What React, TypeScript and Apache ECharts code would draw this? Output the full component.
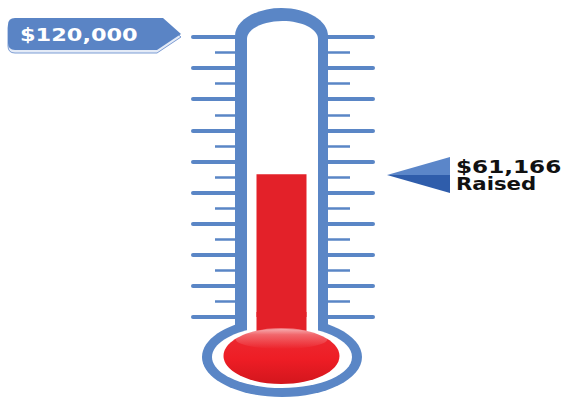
import React, { useEffect, useRef } from "react";
import * as echarts from "echarts";

const TARGET = 120000;
const RAISED = 61166;
const CATEGORIES = ["Raised"];
const RAISED_VALUES = [RAISED];
const TICK_STEPS = 9;
const GOAL_LABEL = "$120,000";
const RAISED_LABEL = "$61,166";
const RAISED_WORD = "Raised";

const BLUE = "#5A86C6";
const RED = "#E32129";

const FLAG_D =
  "M15,18 L163,18 L181,34 L157,50 L15,50 Q8,50 8,43 L8,25 Q8,18 15,18 Z";
echarts.graphic.registerShape("flag", echarts.graphic.extendPath(FLAG_D, {}));

export default function App() {
  const ref = useRef<HTMLDivElement>(null);
  useEffect(() => {
    if (!ref.current) return;
    const chart = echarts.init(ref.current, null, { renderer: "svg" });
    const tickAxis = (pos: "left" | "right", len: number, minorLen: number) => ({
      type: "value",
      min: 0,
      max: TICK_STEPS,
      interval: 1,
      position: pos,
      axisLine: { show: false },
      axisLabel: { show: false },
      splitLine: { show: false },
      axisTick: { show: true, length: len, lineStyle: { width: 4, color: BLUE, cap: "round" } },
      minorTick: { show: true, splitNumber: 2, length: minorLen, lineStyle: { width: 2.5, color: BLUE } },
    });
    chart.setOption({
      animation: false,
      grid: { left: 235, right: 239, top: 37, bottom: 83 },
      xAxis: { type: "category", data: CATEGORIES, show: false },
      yAxis: [
        { type: "value", min: 0, max: TARGET, show: false },
        tickAxis("left", 42, 20),
        tickAxis("right", 45, 22),
      ],
      series: [
        {
          type: "bar",
          yAxisIndex: 0,
          data: RAISED_VALUES,
          barWidth: 50,
          z: 5,
          itemStyle: { color: RED },
        },
      ],
      graphic: [
        { type: "ellipse", z: 1, z2: 1, shape: { cx: 282, cy: 357, rx: 80, ry: 40 }, style: { fill: BLUE } },
        { type: "ellipse", z: 1, z2: 2, shape: { cx: 281.5, cy: 36, rx: 46.5, ry: 28 }, style: { fill: BLUE } },
        { type: "rect", z: 1, z2: 3, shape: { x: 235, y: 36, width: 93, height: 300 }, style: { fill: BLUE } },
        { type: "ellipse", z: 1, z2: 4, shape: { cx: 282, cy: 357, rx: 70, ry: 31 }, style: { fill: "#fff" } },
        { type: "ellipse", z: 1, z2: 5, shape: { cx: 282.5, cy: 39, rx: 35.5, ry: 18 }, style: { fill: "#fff" } },
        { type: "rect", z: 1, z2: 6, shape: { x: 247, y: 39, width: 71, height: 300 }, style: { fill: "#fff" } },
        { type: "rect", z: 6, shape: { x: 256.5, y: 312, width: 50, height: 32 }, style: { fill: RED } },
        {
          type: "ellipse",
          z: 7,
          shape: { cx: 281.5, cy: 356, rx: 58, ry: 28 },
          style: {
            fill: new echarts.graphic.LinearGradient(0, 0, 0, 1, [
              { offset: 0, color: "#f07a7f" },
              { offset: 0.12, color: "#ec2a31" },
              { offset: 0.55, color: "#ee1d25" },
              { offset: 1, color: "#d3161d" },
            ]),
          },
        },
        {
          type: "ellipse",
          z: 8,
          shape: { cx: 281.5, cy: 339, rx: 46, ry: 10 },
          style: {
            fill: new echarts.graphic.LinearGradient(0, 0, 0, 1, [
              { offset: 0, color: "rgba(255,255,255,0.4)" },
              { offset: 1, color: "rgba(255,255,255,0)" },
            ]),
          },
        },
        { type: "flag", z: 9, x: 0, y: 3, style: { fill: "#e4ebf7", stroke: "#7d9dd4", lineWidth: 1 } },
        { type: "flag", z: 10, x: 0, y: 0, style: { fill: "#5A84C5" } },
        {
          type: "text",
          z: 11,
          x: 20,
          y: 35,
          scaleX: 1.32,
          style: {
            text: GOAL_LABEL,
            fill: "#fff",
            font: "bold 17px 'DejaVu Sans'",
            verticalAlign: "middle",
            align: "left",
          },
        },
        { type: "polygon", z: 10, shape: { points: [[387, 175], [450, 157], [450, 175]] }, style: { fill: "#5B86C9" } },
        { type: "polygon", z: 10, shape: { points: [[387, 175], [450, 175], [450, 193]] }, style: { fill: "#2F5DAB" } },
        {
          type: "text",
          z: 11,
          x: 456,
          y: 167,
          scaleX: 1.36,
          style: { text: RAISED_LABEL, fill: "#111", font: "bold 17px 'DejaVu Sans'", verticalAlign: "middle", align: "left" },
        },
        {
          type: "text",
          z: 11,
          x: 456,
          y: 184,
          scaleX: 1.25,
          style: { text: RAISED_WORD, fill: "#111", font: "bold 17px 'DejaVu Sans'", verticalAlign: "middle", align: "left" },
        },
      ],
    });
    return () => chart.dispose();
  }, []);
  return (
    <div
      ref={ref}
      style={{ position: "fixed", left: 0, top: 0, width: 567, height: 400, background: "#fff" }}
    />
  );
}
